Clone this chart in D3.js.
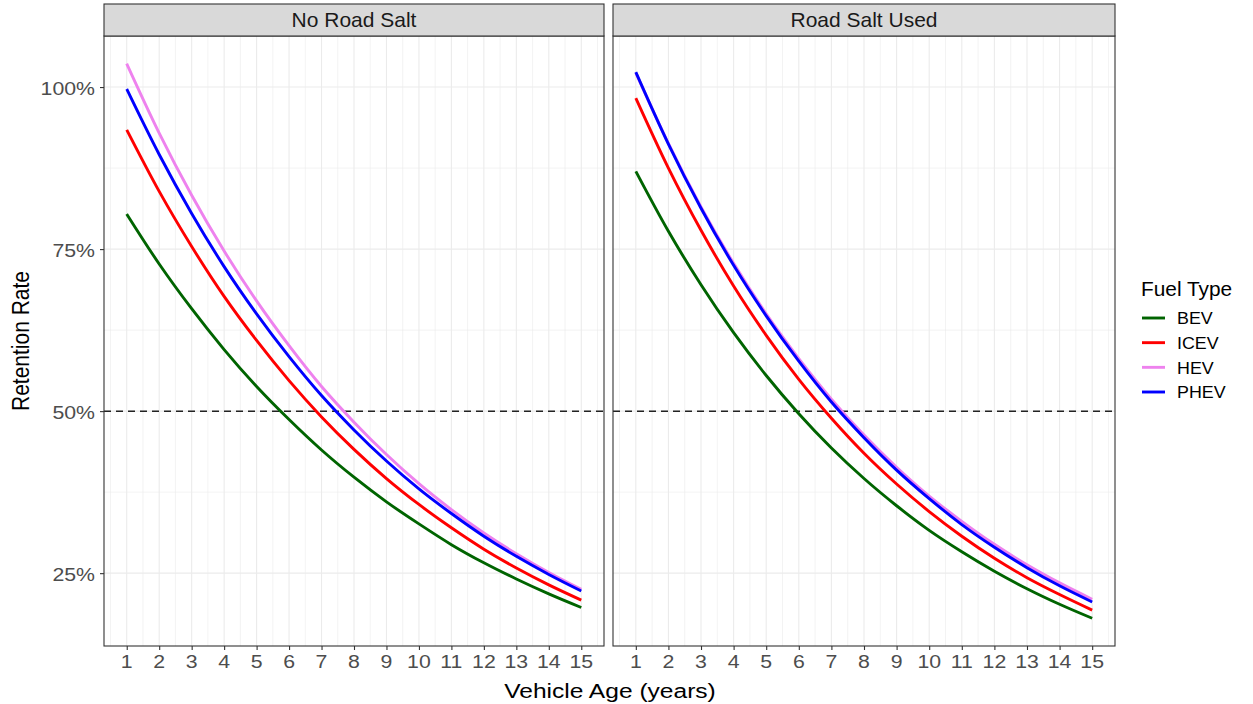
<!DOCTYPE html>
<html>
<head>
<meta charset="utf-8">
<script src="https://cdn.jsdelivr.net/npm/d3@7"></script>
<style>
  body { margin: 0; background: #fff; }
  svg { display: block; font-family: "Liberation Sans", Arial, Helvetica, sans-serif; }
</style>
</head>
<body>
<svg width="1253" height="704"></svg>
<script>
// Data (retention rate in %)
const years = [1, 2, 3, 4, 5, 6, 7, 8, 9, 10, 11, 12, 13, 14, 15];
const fuelTypes = ["BEV", "ICEV", "HEV", "PHEV"];
const fuelColors = ["#006400", "#FF0000", "#EE82EE", "#0000FF"];
const panelNames = ["No Road Salt", "Road Salt Used"];
const yTicks = [25, 50, 75, 100];
const yTickLabels = ["25%", "50%", "75%", "100%"];
const threshold = 50;

const noSaltBEV  = [80.4, 72.7, 65.8, 59.5, 53.8, 48.7, 44.0, 39.8, 36.0, 32.6, 29.4, 26.6, 24.1, 21.8, 19.7];
const noSaltICEV = [93.4, 83.9, 75.4, 67.7, 60.9, 54.7, 49.1, 44.1, 39.6, 35.6, 32.0, 28.7, 25.8, 23.2, 20.85];
const noSaltHEV  = [103.6, 92.9, 83.3, 74.7, 67.0, 60.1, 53.8, 48.3, 43.3, 38.8, 34.8, 31.2, 28.0, 25.1, 22.5];
const noSaltPHEV = [99.7, 89.6, 80.5, 72.3, 65.0, 58.4, 52.4, 47.1, 42.3, 38.0, 34.2, 30.7, 27.6, 24.8, 22.25];

const saltBEV  = [87.0, 77.75, 69.5, 62.1, 55.5, 49.6, 44.3, 39.6, 35.4, 31.6, 28.3, 25.3, 22.6, 20.2, 18.04];
const saltICEV = [98.3, 87.5, 77.9, 69.3, 61.7, 54.9, 48.9, 43.5, 38.75, 34.5, 30.7, 27.3, 24.3, 21.7, 19.3];
const saltHEV  = [102.2, 91.3, 81.5, 72.8, 65.0, 58.1, 51.85, 46.3, 41.35, 36.9, 33.0, 29.45, 26.3, 23.5, 20.98];
const saltPHEV = [102.3, 91.2, 81.3, 72.5, 64.7, 57.7, 51.4, 45.9, 40.9, 36.5, 32.5, 29.0, 25.85, 23.05, 20.56];

const panelSeries = [
  [noSaltBEV, noSaltICEV, noSaltHEV, noSaltPHEV],
  [saltBEV, saltICEV, saltHEV, saltPHEV]
];

const svg = d3.select("svg");

// Layout
const panelTop = 36, panelBottom = 646, stripTop = 4;
const panelX = [[104, 604], [613, 1115]];

// helper for text that is a bit wide in the original
function label(g, x, y, s, size, sx, anchor, fill) {
  return g.append("text")
    .attr("transform", `translate(${x},${y}) scale(${sx},1)`)
    .attr("text-anchor", anchor)
    .attr("font-size", size)
    .attr("fill", fill)
    .text(s);
}

// Scales (ggplot-style 5% expansion)
const allVals = panelSeries.flat(2);
const [vMin, vMax] = d3.extent(allVals);
const vPad = (vMax - vMin) * 0.05;
const y = d3.scaleLinear().domain([vMin - vPad, vMax + vPad]).range([panelBottom, panelTop]);
const xPad = (d3.max(years) - d3.min(years)) * 0.05;

panelNames.forEach((name, p) => {
  const [x0, x1] = panelX[p];
  const x = d3.scaleLinear().domain([d3.min(years) - xPad, d3.max(years) + xPad]).range([x0, x1]);
  const g = svg.append("g");

  // grid
  const xMinor = d3.range(0.5, 16, 1).filter(v => v > x.domain()[0] && v < x.domain()[1]);
  const yMinor = d3.range(12.5, 125, 25).filter(v => v > y.domain()[0] && v < y.domain()[1]);
  g.selectAll(".xminor").data(xMinor).join("line")
    .attr("x1", d => x(d)).attr("x2", d => x(d))
    .attr("y1", panelTop).attr("y2", panelBottom)
    .attr("stroke", "#EBEBEB").attr("stroke-width", 0.6);
  g.selectAll(".yminor").data(yMinor).join("line")
    .attr("x1", x0).attr("x2", x1)
    .attr("y1", d => y(d)).attr("y2", d => y(d))
    .attr("stroke", "#EBEBEB").attr("stroke-width", 0.6);
  g.selectAll(".xmajor").data(years).join("line")
    .attr("x1", d => x(d)).attr("x2", d => x(d))
    .attr("y1", panelTop).attr("y2", panelBottom)
    .attr("stroke", "#EBEBEB").attr("stroke-width", 1.1);
  g.selectAll(".ymajor").data(yTicks).join("line")
    .attr("x1", x0).attr("x2", x1)
    .attr("y1", d => y(d)).attr("y2", d => y(d))
    .attr("stroke", "#EBEBEB").attr("stroke-width", 1.1);

  // dashed 50% line
  g.append("line")
    .attr("x1", x0).attr("x2", x1)
    .attr("y1", y(threshold)).attr("y2", y(threshold))
    .attr("stroke", "#222").attr("stroke-width", 1.5)
    .attr("stroke-dasharray", "7,5");

  // lines
  const line = d3.line()
    .x((d, i) => x(years[i]))
    .y(d => y(d))
    .curve(d3.curveMonotoneX);
  panelSeries[p].forEach((vals, s) => {
    g.append("path")
      .attr("d", line(vals))
      .attr("fill", "none")
      .attr("stroke", fuelColors[s])
      .attr("stroke-width", 2.9);
  });

  // panel border
  g.append("rect")
    .attr("x", x0).attr("y", panelTop)
    .attr("width", x1 - x0).attr("height", panelBottom - panelTop)
    .attr("fill", "none").attr("stroke", "#333").attr("stroke-width", 1.1);

  // strip
  g.append("rect")
    .attr("x", x0).attr("y", stripTop)
    .attr("width", x1 - x0).attr("height", panelTop - stripTop)
    .attr("fill", "#D9D9D9").attr("stroke", "#333").attr("stroke-width", 1.1);
  label(g, (x0 + x1) / 2, 27, name, 20, 1.05, "middle", "#1A1A1A");

  // x axis
  const xAxis = g.append("g")
    .attr("transform", `translate(0,${panelBottom})`)
    .call(d3.axisBottom(x).tickValues(years).tickSize(4).tickFormat(""));
  xAxis.select(".domain").remove();
  xAxis.selectAll("line").attr("stroke", "#333").attr("stroke-width", 1.1);
  years.forEach(v => label(g, x(v), 668, String(v), 19, 1.12, "middle", "#4D4D4D"));

  // y axis (first panel only)
  if (p === 0) {
    const yAxis = g.append("g")
      .attr("transform", `translate(${x0},0)`)
      .call(d3.axisLeft(y).tickValues(yTicks).tickSize(4).tickFormat(""));
    yAxis.select(".domain").remove();
    yAxis.selectAll("line").attr("stroke", "#333").attr("stroke-width", 1.1);
    yTicks.forEach((v, i) => label(g, 95, y(v) + 7.5, yTickLabels[i], 19, 1.12, "end", "#4D4D4D"));
  }
});

// axis titles
label(svg, 610, 698, "Vehicle Age (years)", 21, 1.17, "middle", "#000");
svg.append("text")
  .attr("transform", `translate(29,341) rotate(-90) scale(1,1.12)`)
  .attr("text-anchor", "middle")
  .attr("font-size", 21)
  .attr("fill", "#000")
  .text("Retention Rate");

// legend
const legend = svg.append("g");
label(legend, 1141, 296, "Fuel Type", 19.5, 1.07, "start", "#000");
const legendY = d3.scalePoint().domain(fuelTypes).range([318, 392]);
fuelTypes.forEach((f, i) => {
  legend.append("line")
    .attr("x1", 1142).attr("x2", 1165)
    .attr("y1", legendY(f)).attr("y2", legendY(f))
    .attr("stroke", fuelColors[i]).attr("stroke-width", 2.9);
  label(legend, 1177, legendY(f) + 6.3, f, 17, 1.05, "start", "#000");
});
</script>
</body>
</html>
